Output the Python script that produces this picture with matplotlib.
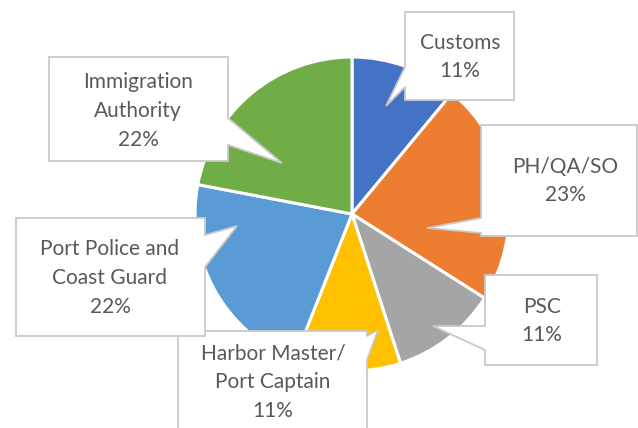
import numpy as np
import matplotlib
matplotlib.use('Agg')
import matplotlib.pyplot as plt
from matplotlib.patches import Polygon

labels = ["Customs", "PH/QA/SO", "PSC", "Harbor Master/\nPort Captain",
          "Port Police and\nCoast Guard", "Immigration\nAuthority"]
shares = [11, 23, 11, 11, 22, 22]
colors = ["#4472C4", "#ED7D31", "#A5A5A5", "#FFC000", "#5B9BD5", "#70AD47"]

W, H = 638, 428

# callout boxes in pixel coords (y down): box corners, pointer base and tip
callouts = [
    dict(box=(405, 12, 514, 100), side="left", base=(67, 87), tip=(386, 106), txt=(460, 57)),
    dict(box=(481, 125, 637, 236), side="left", base=(218, 233), tip=(427, 228), txt=(565, 181)),
    dict(box=(485, 275, 597, 365), side="left", base=(326, 350), tip=(433, 326), txt=(542, 321)),
    dict(box=(178, 331, 367, 440), side="right", base=(336, 360), tip=(378, 330), txt=(273, 382)),
    dict(box=(16, 218, 205, 336), side="right", base=(235, 267), tip=(237, 226), txt=(110, 278)),
    dict(box=(49, 57, 228, 161), side="right", base=(118, 145), tip=(282, 163), txt=(138, 111)),
]

fig = plt.figure(figsize=(W / 100, H / 100), dpi=100)
ax = fig.add_axes([0, 0, 1, 1])

ax.pie(shares, colors=colors, startangle=90, counterclock=False,
       center=(352, H - 214), radius=157, frame=True,
       wedgeprops=dict(edgecolor='white', linewidth=2.2))
ax.set_xlim(0, W)
ax.set_ylim(0, H)
ax.set_aspect('equal')
ax.axis('off')

for lab, pct, c in zip(labels, shares, callouts):
    x0, y0, x1, y1 = c["box"]
    b0, b1 = c["base"]
    tx, ty = c["tip"]
    if c["side"] == "left":
        pts = [(x0, y0), (x1, y0), (x1, y1), (x0, y1), (x0, b1), (tx, ty), (x0, b0)]
    else:
        pts = [(x0, y0), (x1, y0), (x1, b0), (tx, ty), (x1, b1), (x1, y1), (x0, y1)]
    pts = [(px, H - py) for px, py in pts]
    ax.add_patch(Polygon(pts, closed=True, facecolor='white', edgecolor='#C9C9C9',
                         linewidth=1.3, zorder=3))
    ax.text(c["txt"][0], H - c["txt"][1], "%s\n%d%%" % (lab, pct),
            ha='center', va='center', fontsize=15, color='#595959',
            family=['Lato', 'DejaVu Sans'], linespacing=1.55, zorder=4)

fig.savefig("out.png", dpi=100)
